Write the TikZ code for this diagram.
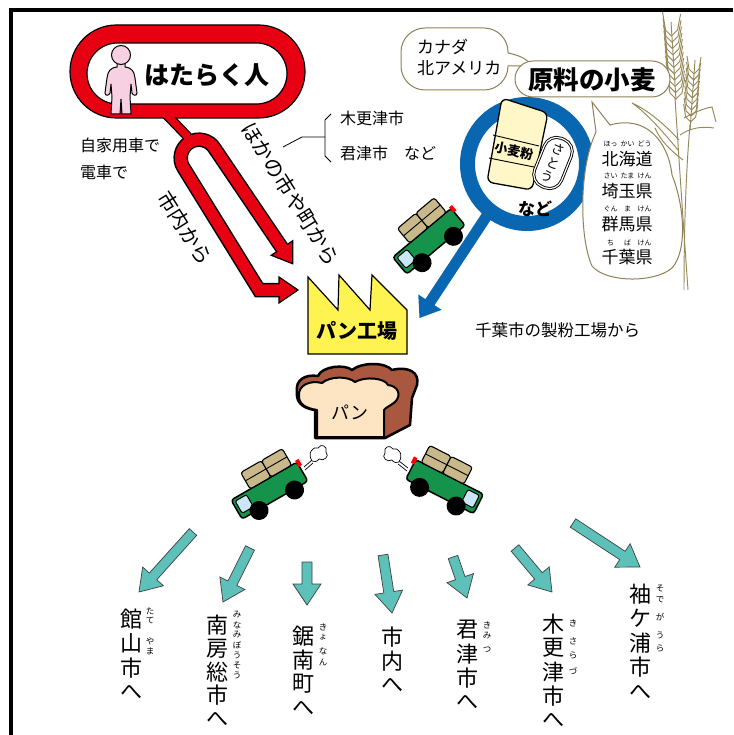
\documentclass[tikz,border=0pt]{standalone}
\usepackage{fontspec}
\setmainfont{Noto Sans CJK JP}
\usetikzlibrary{calc}

\definecolor{loopred}{HTML}{E60012}
\definecolor{skin}{HTML}{F7D0E2}
\definecolor{ringblue}{HTML}{0867B0}
\definecolor{arrowteal}{HTML}{5DC1BA}
\definecolor{truckgreen}{HTML}{16934A}
\definecolor{cargotan}{HTML}{C9B98A}
\definecolor{glass}{HTML}{CBE7F7}
\definecolor{factoryyellow}{HTML}{FFF352}
\definecolor{crumb}{HTML}{FDE4C3}
\definecolor{crust}{HTML}{A9583F}
\definecolor{bubbleline}{HTML}{8E8158}
\definecolor{straw}{HTML}{978958}
\definecolor{flour}{HTML}{FFF7C8}

\tikzset{
  jp/.style={inner sep=0pt, font=\fontsize{#1}{#1}\selectfont},
  jpb/.style={inner sep=0pt, font=\fontsize{#1}{#1}\selectfont\bfseries},
  bubble/.style={draw=bubbleline, line width=1, fill=white},
  tealarr/.style={fill=arrowteal, draw=black!75, line width=0.7, line join=miter},
  truck/.pic={
    \draw[line width=1.5, fill=truckgreen, rounded corners=3pt] (-38,-8) rectangle (38,14);
    \draw[line width=1, fill=glass, rounded corners=2pt] (-35,-5) rectangle (-22,9);
    \draw[line width=1.1, fill=cargotan, rounded corners=2.5pt] (-16,-27) rectangle (8,-8);
    \draw[line width=1.1, fill=cargotan, rounded corners=2.5pt] (8,-27) rectangle (32,-8);
    \draw[line width=0.9] (-16,-17.5) -- (32,-17.5);
    \fill[red] (37,-10) rectangle (41,-3);
    \fill[black] (-19,15) circle (9.5);
    \fill[black] (22,15) circle (9.5);
  }
}

% block arrow: style, tail, tip, shaft half width, head half width, head length
\newcommand\bkarrow[6]{%
  \path ($(#3)!#6pt!(#2)$) coordinate (bk-h);
  \path[#1] ($(#2)!#4pt!90:(#3)$) -- ($(bk-h)!#4pt!-90:(#2)$) -- ($(bk-h)!#5pt!-90:(#2)$)
    -- (#3) -- ($(bk-h)!#5pt!90:(#2)$) -- ($(bk-h)!#4pt!90:(#2)$) -- ($(#2)!#4pt!-90:(#3)$) -- cycle;}

% vertical stack of characters: name, x, y of first, pitch, size, list
\newcommand\vstack[6]{%
  \foreach \ch [count=\k from 0] in {#6}{%
    \node[jp=#5] (#1-\k) at (#2,{#3+\k*#4}) {\ch};}}

\begin{document}
\begin{tikzpicture}[x=1pt,y=-1pt]
\useasboundingbox (0,0) rectangle (733,735);
\fill[white] (0,0) rectangle (733,735);

% frame
\draw[line width=3.2] (11,735) -- (11,10) -- (733,10);

% ---------- wheat ----------
\begin{scope}[straw, line width=0.95]
  \draw (675,98) .. controls (679,160) and (683,220) .. (688,290);
  \draw (690,125) .. controls (686,170) and (684,230) .. (684,290);
  \draw (671,22) -- (676,100);
  \foreach \k in {0,...,10}{
    \pgfmathsetmacro\yy{36+6.3*\k}
    \pgfmathsetmacro\xx{671+(\yy-28)*0.07}
    \draw (\xx,\yy) -- (\xx-6,\yy-6) -- (\xx-9,\yy-24);
    \draw (\xx,\yy) -- (\xx+6,\yy-6) -- (\xx+9,\yy-22);
  }
  \draw (695,60) -- (690,130);
  \foreach \k in {0,...,8}{
    \pgfmathsetmacro\yy{74+6*\k}
    \pgfmathsetmacro\xx{695-(\yy-60)*0.07}
    \draw (\xx,\yy) -- (\xx-5,\yy-5) -- (\xx-7,\yy-18);
    \draw (\xx,\yy) -- (\xx+5,\yy-5) -- (\xx+7,\yy-17);
  }
  \draw (678,150) .. controls (660,128) and (645,112) .. (632,103) .. controls (648,110) and (665,125) .. (679,140);
  \draw (684,118) .. controls (695,112) and (705,108) .. (712,107) -- (716,122);
  \draw (680,135) .. controls (690,128) and (702,126) .. (714,128);
  \draw (683,160) .. controls (670,150) and (660,140) .. (655,128);
\end{scope}

% ---------- ring of ingredients ----------
\draw[ringblue, line width=15] (527,164) circle (59.5);
\coordinate (ringout) at (492,208);
\coordinate (ringtip) at (419.5,318);
\bkarrow{fill=ringblue}{ringout}{ringtip}{5.5}{14}{19}

% flour bag
\draw[fill=flour, line width=1.3, rounded corners=6pt] (502,98) -- (548,113) -- (532,190) -- (487,182) -- cycle;
\draw[line width=0.9] (493,135) -- (539,146);
\draw[line width=0.9] (489,158) -- (534,167);
\node[jpb=13, rotate=-12] (flourlabel) at (514,151) {小麦粉};
% sugar
\node[draw, line width=0.9, double, double distance=1.2pt, fill=white, rounded corners=13pt,
      minimum width=29pt, minimum height=52pt, rotate=-22, align=center, inner sep=0pt,
      font=\fontsize{13}{14.5}\selectfont] (sugar) at (553,163) {さ\\と\\う};
\node[jpb=17] (etc) at (535,209) {など};

% ---------- speech bubbles ----------
\draw[bubble, rounded corners=24pt] (401,28) rectangle (508,90);
\fill[white] (506,53) .. controls (518,55) and (525,58) .. (531,64) .. controls (522,66) .. (506,66) -- cycle;
\draw[bubbleline, line width=1] (508,53) .. controls (518,55) and (525,58) .. (531,64) .. controls (522,66) .. (508,66);
\node[jp=17, anchor=west] (canada) at (417,47) {カナダ};
\node[jp=17, anchor=west] (namerica) at (417,68) {北アメリカ};

\draw[bubble, rounded corners=18pt] (515,61) rectangle (670,97);
\node[jpb=25.5] (wheat) at (592,80) {原料の小麦};

\draw[bubble] (610,125) .. controls (645,115) and (668,140) .. (672,175)
  .. controls (684,205) and (688,250) .. (672,268)
  .. controls (655,283) and (606,283) .. (592,266)
  .. controls (580,240) and (578,170) .. (596,132) -- (592,102) -- cycle;
\node[jp=17] (hokkaido) at (627,159) {北海道};
\node[jp=17] (saitama) at (627,191) {埼玉県};
\node[jp=17] (gunma) at (627,224) {群馬県};
\node[jp=17] (chiba) at (627,257) {千葉県};
\foreach \r/\x/\y in {ほっ/610.5/144, かい/627.5/144, どう/644.5/144,
                      さい/610.5/176, たま/627.5/176, けん/644.5/176,
                      ぐん/610.5/209, ま/627.5/209, けん/644.5/209,
                      ち/610.5/243, ば/627.5/243, けん/644.5/243}
  \node[jp=7] (ruby-\x-\y) at (\x,\y) {\r};

% ---------- commuters ----------
\coordinate (stemA) at (162,110);
\coordinate (stemB) at (188,137);
\coordinate (lhead) at (279,290);
\coordinate (ltip) at (298,290);
\coordinate (lbend) at (259,290);
\coordinate (lup) at (183.4,167.6);
\coordinate (archtop) at (189.4,142.4);
\coordinate (rup) at (214.6,148.4);
\coordinate (rhead) at (282,248);
\coordinate (rtip) at ($(rhead)!-19pt!(rup)$);

\draw[line width=10] (stemA) -- (stemB);
\draw[line width=14.5, line join=miter] (lhead) -- (lbend) -- (lup)
  .. controls (178.1,159.0) and (180.8,147.7) .. (archtop)
  .. controls (198.0,137.1) and (209.3,139.8) .. (rup) -- (rhead);
\path[fill=loopred, even odd rule] [rounded corners=46.5pt] (70,25) rectangle (305,118)
  [rounded corners=30.5pt] (87,43) rectangle (287,104);
\draw[line width=1.2] [rounded corners=46.5pt] (70,25) rectangle (305,118)
  [rounded corners=30.5pt] (87,43) rectangle (287,104);
\draw[fill=loopred, line width=1.2, line join=miter] (279,277) -- (ltip) -- (279,303) -- cycle;
\draw[fill=loopred, line width=1.2, line join=miter] ($(rhead)!13pt!90:(rtip)$) -- (rtip) -- ($(rhead)!13pt!-90:(rtip)$) -- cycle;
\draw[loopred, line width=7.5] (stemA) -- (stemB);
\draw[loopred, line width=11.5, line join=miter] (281,290) -- (lbend) -- (lup)
  .. controls (178.1,159.0) and (180.8,147.7) .. (archtop)
  .. controls (198.0,137.1) and (209.3,139.8) .. (rup) -- ($(rhead)!-2pt!(rup)$);

% worker
\draw[fill=skin, line width=1] (117,63) -- (117,67)
  .. controls (110,68) and (108,71) .. (107,78) -- (105,93)
  .. controls (105,96) and (109,96) .. (110,93) -- (111,84) -- (112,97) -- (111,114) -- (120,114)
  -- (121,99) -- (122,114) -- (131,114) -- (130,97) -- (131,84) -- (132,93)
  .. controls (133,96) and (137,96) .. (137,93) -- (135,78)
  .. controls (134,71) and (132,68) .. (125,67) -- (125,63) -- cycle;
\draw[fill=skin, line width=1] (121,55) circle (9.5);
\node[jpb=25] (workers) at (207,75) {はたらく人};

\node[jp=16, anchor=west] (bycar) at (80,145) {自家用車で};
\node[jp=16, anchor=west] (bytrain) at (80,172) {電車で};
\node[jp=20.5, rotate=-58] (incity) at (185,228) {市内から};
\node[jp=20.5, rotate=-58] (othercity) at (291,194) {ほかの市や町から};
\node[jp=16, anchor=west] (kisarazu) at (340,118) {木更津市};
\node[jp=16, anchor=west] (kimitsu) at (340,153) {君津市　など};
\draw[line width=0.8] (283,147) -- (302,137) -- (325,137);
\draw[line width=0.8] (331,114) -- (325,120) -- (325,156) -- (331,162);

% ---------- factory ----------
\draw[fill=factoryyellow, line width=1.2, line join=miter] (308,277) -- (338,310) -- (339,275) -- (370,310)
  -- (372,275) -- (407,310) -- (407,354) -- (308,354) -- cycle;
\node[jpb=20] (factory) at (357,331) {パン工場};
\node[jp=16.5, anchor=west] (mill) at (475,330) {千葉市の製粉工場から};

% ---------- bread ----------
\draw[fill=crust, line width=2.5, line join=round] (297,392) .. controls (295,380) and (305,374) .. (318,376)
  .. controls (322,366) and (345,364) .. (352,370)
  .. controls (362,362) and (385,362) .. (392,370)
  .. controls (408,366) and (420,372) .. (417,385)
  -- (412,398) -- (410,425) -- (385,438) -- (315,438) -- (315,410)
  .. controls (300,408) and (296,400) .. (297,392) -- cycle;
\draw[fill=crumb, line width=2, line join=round] (299,396) .. controls (298,385) and (310,380) .. (322,383)
  .. controls (330,376) and (348,376) .. (355,382)
  .. controls (365,376) and (385,378) .. (388,385)
  .. controls (398,386) and (402,395) .. (395,402)
  .. controls (390,406) and (385,408) .. (384,410) -- (384,437) -- (317,437) -- (317,410)
  .. controls (305,408) and (299,404) .. (299,396) -- cycle;
\node[jp=18] (bread) at (350,412) {パン};

% ---------- trucks ----------
\pic[rotate=40] at (427,239) {truck};
\pic[rotate=30] at (268,488) {truck};
\pic[rotate=-27, xscale=-1] at (446,484) {truck};
% exhaust
\draw[line width=0.7] (304,467) -- (312,460) (305,470) -- (313,463);
\draw[fill=white, line width=0.7] (312,461) .. controls (307,453) and (313,446) .. (318,448)
  .. controls (321,443) and (328,446) .. (326,452) .. controls (330,456) and (324,462) .. (319,459)
  .. controls (317,462) and (314,462) .. (312,461) -- cycle;
\draw[line width=0.7] (408,468) -- (399,461) (407,471) -- (398,464);
\draw[fill=white, line width=0.7] (399,462) .. controls (404,454) and (398,447) .. (393,449)
  .. controls (390,444) and (383,447) .. (385,453) .. controls (381,457) and (387,463) .. (392,460)
  .. controls (394,463) and (397,463) .. (399,462) -- cycle;

% ---------- deliveries ----------
\foreach \n/\ax/\ay/\bx/\by in {1/193/532/139/592, 2/250/548/223/602, 3/307/562/307/605,
    4/383/555/392/613, 5/453/557/467/598, 6/515/548/552/592, 7/573/523/640/567}{
  \coordinate (out\n) at (\ax,\ay);
  \coordinate (to\n) at (\bx,\by);
  \bkarrow{tealarr}{out\n}{to\n}{5}{14}{21}
}

\vstack{tateyama}{131}{619}{24.5}{22}{館,山,市,へ}
\vstack{tateyama-r1}{150}{611}{10}{8.5}{た,て}
\vstack{tateyama-r2}{150}{641}{10}{8.5}{や,ま}

\vstack{minamiboso}{217}{625}{23.5}{22}{南,房,総,市,へ}
\vstack{minamiboso-r}{237}{615}{10}{8.5}{み,な,み,ぼ,う,そ,う}

\vstack{kyonan}{303}{636}{24}{22}{鋸,南,町,へ}
\vstack{kyonan-r1}{323}{627}{10}{8.5}{き,ょ}
\vstack{kyonan-r2}{323}{651}{11}{8.5}{な,ん}

\vstack{shinai}{392}{637}{24}{22}{市,内,へ}

\vstack{kimitsu}{467}{630}{24}{22}{君,津,市,へ}
\vstack{kimitsu-r1}{487}{625}{11}{8.5}{き,み}
\vstack{kimitsu-r2}{487}{650}{10}{8.5}{つ}

\vstack{kisarazu}{553}{624}{24}{22}{木,更,津,市,へ}
\vstack{kisarazu-r1}{573}{623}{10}{8.5}{き}
\vstack{kisarazu-r2}{573}{641}{14}{8.5}{さ,ら}
\vstack{kisarazu-r3}{573}{671}{10}{8.5}{づ}

\vstack{sodegaura}{640}{594}{24.5}{22}{袖,ケ,浦,市,へ}
\vstack{sodegaura-r1}{660}{588}{12}{8.5}{そ,で}
\vstack{sodegaura-r2}{660}{617}{13}{8.5}{が}
\vstack{sodegaura-r3}{660}{635}{13}{8.5}{う,ら}
\end{tikzpicture}
\end{document}
